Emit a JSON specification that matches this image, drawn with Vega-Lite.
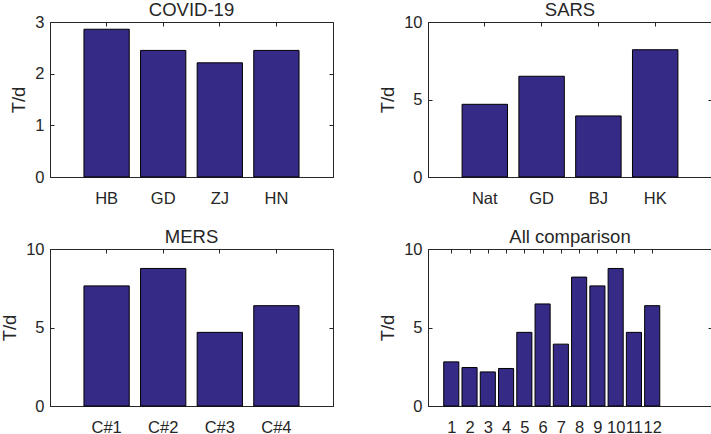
{
  "$schema": "https://vega.github.io/schema/vega-lite/v6.json",
  "background": "white",
  "padding": {"left": 0, "top": 0, "right": 1, "bottom": 0},
  "config": {
    "font": "Liberation Sans",
    "view": {"stroke": "#262626", "strokeWidth": 1},
    "axis": {
      "grid": false,
      "labelFont": "Liberation Sans",
      "labelFontSize": 16.5,
      "labelColor": "#262626",
      "tickColor": "#262626",
      "domainColor": "#262626",
      "tickSize": -4,
      "labelPadding": 10,
      "titleFont": "Liberation Sans",
      "titleFontSize": 18.5,
      "titleFontWeight": "normal",
      "titleColor": "#262626",
      "titlePadding": 6
    },
    "axisX": {"labelPadding": 17},
    "title": {"font": "Liberation Sans", "fontSize": 18.5, "fontWeight": "normal", "color": "#262626", "offset": -5}
  },
  "datasets": {
    "covid": [
      {"region": "HB", "td": 2.86},
      {"region": "GD", "td": 2.45},
      {"region": "ZJ", "td": 2.21},
      {"region": "HN", "td": 2.45}
    ],
    "sars": [
      {"region": "Nat", "td": 4.69},
      {"region": "GD", "td": 6.5},
      {"region": "BJ", "td": 3.94},
      {"region": "HK", "td": 8.21}
    ],
    "mers": [
      {"region": "C#1", "td": 7.65},
      {"region": "C#2", "td": 8.76},
      {"region": "C#3", "td": 4.69},
      {"region": "C#4", "td": 6.39}
    ],
    "all": [
      {"idx": 1, "td": 2.81},
      {"idx": 2, "td": 2.45},
      {"idx": 3, "td": 2.17},
      {"idx": 4, "td": 2.39},
      {"idx": 5, "td": 4.69},
      {"idx": 6, "td": 6.5},
      {"idx": 7, "td": 3.94},
      {"idx": 8, "td": 8.21},
      {"idx": 9, "td": 7.65},
      {"idx": 10, "td": 8.76},
      {"idx": 11, "td": 4.69},
      {"idx": 12, "td": 6.39}
    ]
  },
  "spacing": 20,
  "vconcat": [
    {
      "spacing": 44,
      "hconcat": [
        {
          "title": "COVID-19",
          "width": 283, "height": 155,
          "data": {"name": "covid"},
          "resolve": {"axis": {"x": "independent", "y": "independent"}},
          "layer": [
            {
              "mark": {"type": "bar", "fill": "#352A86", "stroke": "#000000", "strokeWidth": 1},
              "encoding": {
                "x": {"field": "region", "type": "nominal", "sort": null, "scale": {"paddingInner": 0.2, "paddingOuter": 0.6}, "axis": {"title": null, "labelAngle": 0}},
                "y": {"field": "td", "type": "quantitative", "scale": {"domain": [0, 3], "nice": false}, "axis": {"title": "T/d", "values": [0, 1, 2, 3]}}
              }
            },
            {
              "mark": {"type": "bar", "opacity": 0},
              "encoding": {
                "x": {"field": "region", "type": "nominal", "sort": null, "axis": {"orient": "top", "labels": false, "title": null, "domain": false}},
                "y": {"field": "td", "type": "quantitative", "axis": {"orient": "right", "labels": false, "title": null, "domain": false, "values": [0, 1, 2, 3]}}
              }
            }
          ]
        },
        {
          "title": "SARS",
          "width": 284, "height": 155,
          "data": {"name": "sars"},
          "resolve": {"axis": {"x": "independent", "y": "independent"}},
          "layer": [
            {
              "mark": {"type": "bar", "fill": "#352A86", "stroke": "#000000", "strokeWidth": 1},
              "encoding": {
                "x": {"field": "region", "type": "nominal", "sort": null, "scale": {"paddingInner": 0.2, "paddingOuter": 0.6}, "axis": {"title": null, "labelAngle": 0}},
                "y": {"field": "td", "type": "quantitative", "scale": {"domain": [0, 10], "nice": false}, "axis": {"title": "T/d", "values": [0, 5, 10]}}
              }
            },
            {
              "mark": {"type": "bar", "opacity": 0},
              "encoding": {
                "x": {"field": "region", "type": "nominal", "sort": null, "axis": {"orient": "top", "labels": false, "title": null, "domain": false}},
                "y": {"field": "td", "type": "quantitative", "axis": {"orient": "right", "labels": false, "title": null, "domain": false, "values": [0, 5, 10]}}
              }
            }
          ]
        }
      ]
    },
    {
      "spacing": 44,
      "hconcat": [
        {
          "title": "MERS",
          "width": 283, "height": 157,
          "data": {"name": "mers"},
          "resolve": {"axis": {"x": "independent", "y": "independent"}},
          "layer": [
            {
              "mark": {"type": "bar", "fill": "#352A86", "stroke": "#000000", "strokeWidth": 1},
              "encoding": {
                "x": {"field": "region", "type": "nominal", "sort": null, "scale": {"paddingInner": 0.2, "paddingOuter": 0.6}, "axis": {"title": null, "labelAngle": 0}},
                "y": {"field": "td", "type": "quantitative", "scale": {"domain": [0, 10], "nice": false}, "axis": {"title": "T/d", "values": [0, 5, 10]}}
              }
            },
            {
              "mark": {"type": "bar", "opacity": 0},
              "encoding": {
                "x": {"field": "region", "type": "nominal", "sort": null, "axis": {"orient": "top", "labels": false, "title": null, "domain": false}},
                "y": {"field": "td", "type": "quantitative", "axis": {"orient": "right", "labels": false, "title": null, "domain": false, "values": [0, 5, 10]}}
              }
            }
          ]
        },
        {
          "title": "All comparison",
          "width": 284, "height": 157,
          "data": {"name": "all"},
          "resolve": {"axis": {"x": "independent", "y": "independent"}},
          "layer": [
            {
              "mark": {"type": "bar", "fill": "#352A86", "stroke": "#000000", "strokeWidth": 1, "width": 15.1},
              "encoding": {
                "x": {"field": "idx", "type": "quantitative", "scale": {"domain": [0, 15], "nice": false, "zero": false}, "axis": {"title": null, "values": [1, 2, 3, 4, 5, 6, 7, 8, 9, 10, 11, 12], "labelAngle": 0, "labelFlush": false, "labelOverlap": false}},
                "y": {"field": "td", "type": "quantitative", "scale": {"domain": [0, 10], "nice": false}, "axis": {"title": "T/d", "values": [0, 5, 10]}}
              }
            },
            {
              "mark": {"type": "bar", "opacity": 0, "width": 15.1},
              "encoding": {
                "x": {"field": "idx", "type": "quantitative", "axis": {"orient": "top", "labels": false, "title": null, "domain": false, "values": [1, 2, 3, 4, 5, 6, 7, 8, 9, 10, 11, 12]}},
                "y": {"field": "td", "type": "quantitative", "axis": {"orient": "right", "labels": false, "title": null, "domain": false, "values": [0, 5, 10]}}
              }
            }
          ]
        }
      ]
    }
  ]
}
